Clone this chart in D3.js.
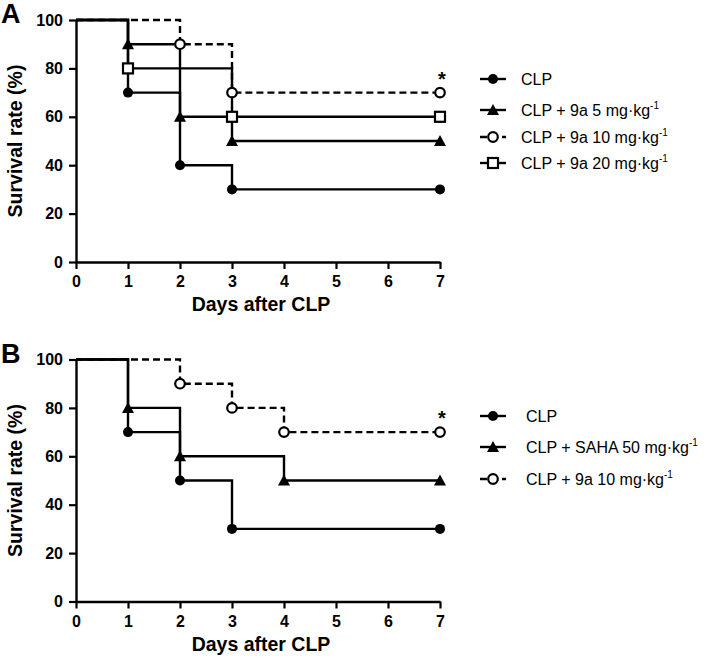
<!DOCTYPE html>
<html>
<head>
<meta charset="utf-8">
<script src="https://cdn.jsdelivr.net/npm/d3@7"></script>
<style>
  body { margin: 0; background: #fff; }
  svg { display: block; }
  text { font-family: Arial, "Liberation Sans", Helvetica, sans-serif; }
</style>
</head>
<body>
<div id="chart"></div>
<script>
// survival curves, day -> % alive; marker on every point after day 0
const days = [0, 1, 2, 3, 4, 5, 6, 7];
const yTicks = [0, 20, 40, 60, 80, 100];

const clpA = [[0, 100], [1, 70], [2, 40], [3, 30], [7, 30]];
const mg5A = [[0, 100], [1, 90], [2, 60], [3, 50], [7, 50]];
const mg10A = [[0, 100], [2, 90], [3, 70], [7, 70]];
const mg20A = [[0, 100], [1, 80], [3, 60], [7, 60]];

const clpB = [[0, 100], [1, 70], [2, 50], [3, 30], [7, 30]];
const sahaB = [[0, 100], [1, 80], [2, 60], [4, 50], [7, 50]];
const mg10B = [[0, 100], [2, 90], [3, 80], [4, 70], [7, 70]];

const panels = [
    {
        label: 'A', top: 20, bottom: 262, legendX: 480, textX: 521,
        legendY: [79, 110, 137, 163],
        series: [
            { name: 'CLP', dose: '', data: clpA, mark: 'dot', dash: false },
            { name: 'CLP + 9a 5 mg', dose: 'kg', data: mg5A, mark: 'tri', dash: false },
            { name: 'CLP + 9a 10 mg', dose: 'kg', data: mg10A, mark: 'ring', dash: true },
            { name: 'CLP + 9a 20 mg', dose: 'kg', data: mg20A, mark: 'sq', dash: false }
        ]
    },
    {
        label: 'B', top: 359.5, bottom: 601.5, legendX: 480, textX: 526,
        legendY: [416, 447, 479],
        series: [
            { name: 'CLP', dose: '', data: clpB, mark: 'dot', dash: false },
            { name: 'CLP + SAHA 50 mg', dose: 'kg', data: sahaB, mark: 'tri', dash: false },
            { name: 'CLP + 9a 10 mg', dose: 'kg', data: mg10B, mark: 'ring', dash: true }
        ]
    }
];

const svg = d3.select('#chart').append('svg')
    .attr('width', 709)
    .attr('height', 658);

const x = d3.scaleLinear().domain([0, 7]).range([76, 440]);

function drawMark(g, type, cx, cy) {
    if (type === 'dot') {
        g.append('circle').attr('cx', cx).attr('cy', cy).attr('r', 5).attr('fill', '#000');
    } else if (type === 'ring') {
        g.append('circle').attr('cx', cx).attr('cy', cy).attr('r', 4.8)
            .attr('fill', '#fff').attr('stroke', '#000').attr('stroke-width', 2.2);
    } else if (type === 'sq') {
        g.append('rect').attr('x', cx - 5).attr('y', cy - 5).attr('width', 10).attr('height', 10)
            .attr('fill', '#fff').attr('stroke', '#000').attr('stroke-width', 2.2);
    } else {
        g.append('path')
            .attr('d', `M${cx},${cy - 6}L${cx + 6},${cy + 5}L${cx - 6},${cy + 5}Z`)
            .attr('fill', '#000');
    }
}

panels.forEach(p => {
    const y = d3.scaleLinear().domain([0, 100]).range([p.bottom, p.top]);
    const g = svg.append('g');

    // axes
    const xAxis = g.append('g')
        .attr('transform', `translate(0,${p.bottom})`)
        .call(d3.axisBottom(x).tickValues(days).tickFormat(d3.format('d'))
            .tickSize(7).tickPadding(7).tickSizeOuter(0));
    const yAxis = g.append('g')
        .attr('transform', `translate(${x(0)},0)`)
        .call(d3.axisLeft(y).tickValues(yTicks).tickFormat(d3.format('d'))
            .tickSize(7).tickPadding(6).tickSizeOuter(0));
    [xAxis, yAxis].forEach(a => {
        a.select('.domain').attr('stroke-width', 2.4);
        a.selectAll('.tick line').attr('stroke-width', 2.2);
        a.selectAll('.tick text')
            .attr('font-size', '16px').attr('font-weight', 'bold')
            .attr('font-family', 'Arial, "Liberation Sans", sans-serif');
    });

    g.append('text')
        .attr('x', 261).attr('y', p.bottom + 49)
        .attr('text-anchor', 'middle')
        .attr('font-size', '19.5px').attr('font-weight', 'bold')
        .text('Days after CLP');

    g.append('text')
        .attr('transform', `translate(22,${(p.top + p.bottom) / 2}) rotate(-90)`)
        .attr('text-anchor', 'middle')
        .attr('font-size', '19.5px').attr('font-weight', 'bold')
        .text('Survival rate (%)');

    g.append('text')
        .attr('x', 1).attr('y', p.top + 3)
        .attr('font-size', '27px').attr('font-weight', 'bold')
        .text(p.label);

    // step curves, dashed first so solid ones sit on top
    const line = d3.line()
        .x(d => x(d[0]))
        .y(d => y(d[1]))
        .curve(d3.curveStepAfter);

    const order = p.series.slice().sort((a, b) => b.dash - a.dash);
    order.forEach(s => {
        g.append('path')
            .attr('d', line(s.data))
            .attr('fill', 'none')
            .attr('stroke', '#000')
            .attr('stroke-width', 2.4)
            .attr('stroke-dasharray', s.dash ? '7,4' : null);
    });
    order.forEach(s => {
        s.data.slice(1).forEach(d => drawMark(g, s.mark, x(d[0]), y(d[1])));
    });

    // significance star over the 9a 10 mg end point
    const star = p.series.find(s => s.dash).data;
    const last = star[star.length - 1];
    g.append('text')
        .attr('x', x(last[0]) + 2).attr('y', y(last[1]) - 7)
        .attr('text-anchor', 'middle')
        .attr('font-size', '20px').attr('font-weight', 'bold')
        .text('*');

    // legend
    p.series.forEach((s, i) => {
        const ly = p.legendY[i];
        const lg = g.append('g');
        lg.append('line')
            .attr('x1', p.legendX).attr('x2', p.legendX + 26)
            .attr('y1', ly).attr('y2', ly)
            .attr('stroke', '#000').attr('stroke-width', 2.4)
            .attr('stroke-dasharray', s.dash ? '7,4' : null);
        drawMark(lg, s.mark, p.legendX + 13, ly);
        const t = lg.append('text')
            .attr('x', p.textX).attr('y', ly + 6)
            .attr('font-size', '16px');
        if (s.dose) {
            t.append('tspan').text(s.name + '\u00b7' + s.dose);
            t.append('tspan').attr('font-size', '10px').attr('dy', -7).text('-1');
        } else {
            t.text(s.name);
        }
    });
});
</script>
</body>
</html>
